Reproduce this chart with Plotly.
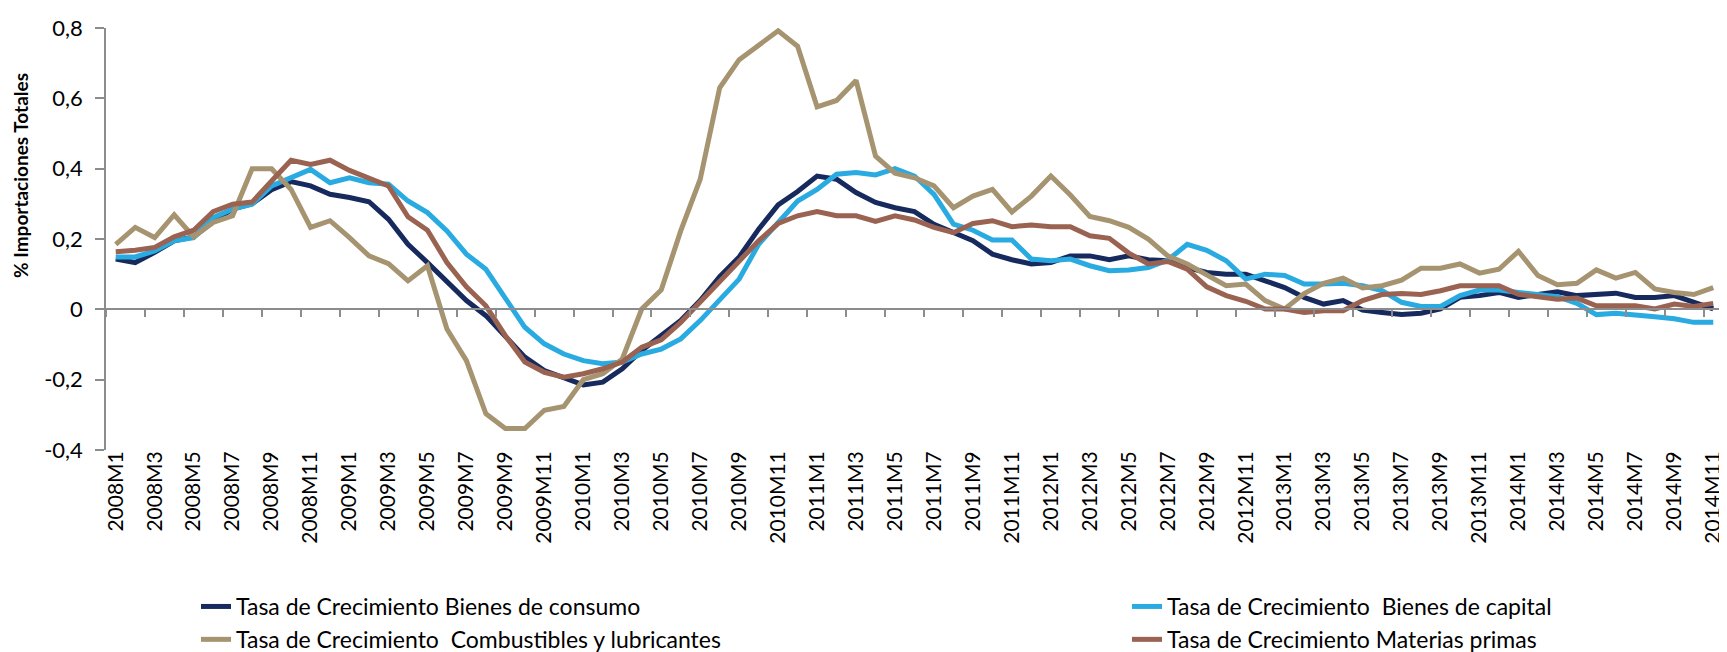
import plotly.graph_objects as go

months = [f"{y}M{m}" for y in range(2008, 2015) for m in range(1, 13)][:83]

consumo = [0.143, 0.133, 0.162, 0.195, 0.206, 0.25, 0.285, 0.30, 0.34, 0.363, 0.351, 0.327,
           0.318, 0.306, 0.256, 0.185, 0.133, 0.081, 0.025, -0.018, -0.079, -0.136, -0.174, -0.193,
           -0.215, -0.207, -0.169, -0.117, -0.075, -0.032, 0.025, 0.093, 0.149, 0.228, 0.297, 0.335,
           0.379, 0.37, 0.332, 0.304, 0.289, 0.278, 0.242, 0.218, 0.195, 0.157, 0.141, 0.129,
           0.133, 0.152, 0.152, 0.141, 0.152, 0.141, 0.138, 0.119, 0.105, 0.1, 0.1, 0.081,
           0.062, 0.034, 0.015, 0.025, -0.002, -0.009, -0.015, -0.011, 0.001, 0.034, 0.039, 0.048,
           0.034, 0.042, 0.05, 0.039, 0.042, 0.046, 0.034, 0.034, 0.039, 0.02, 0.001]

capital = [0.149, 0.149, 0.166, 0.195, 0.204, 0.261, 0.285, 0.299, 0.351, 0.374, 0.398, 0.36,
           0.374, 0.36, 0.356, 0.308, 0.275, 0.223, 0.157, 0.114, 0.034, -0.051, -0.098, -0.127,
           -0.146, -0.155, -0.15, -0.127, -0.113, -0.084, -0.032, 0.029, 0.086, 0.185, 0.247, 0.308,
           0.341, 0.384, 0.389, 0.382, 0.40, 0.379, 0.327, 0.242, 0.225, 0.197, 0.197, 0.143,
           0.138, 0.143, 0.124, 0.11, 0.112, 0.119, 0.14, 0.185, 0.168, 0.138, 0.086, 0.1,
           0.096, 0.072, 0.072, 0.074, 0.067, 0.053, 0.02, 0.008, 0.008, 0.039, 0.055, 0.055,
           0.048, 0.042, 0.036, 0.017, -0.015, -0.011, -0.015, -0.021, -0.027, -0.037, -0.037]

combustibles = [0.185, 0.233, 0.204, 0.269, 0.206, 0.247, 0.266, 0.40, 0.40, 0.341, 0.233, 0.252,
                0.204, 0.152, 0.13, 0.081, 0.124, -0.056, -0.146, -0.297, -0.339, -0.339, -0.287, -0.276,
                -0.2, -0.183, -0.141, 0.001, 0.055, 0.223, 0.37, 0.63, 0.71, 0.753, 0.792, 0.748,
                0.576, 0.594, 0.651, 0.436, 0.387, 0.374, 0.351, 0.289, 0.322, 0.341, 0.277, 0.322,
                0.379, 0.325, 0.264, 0.252, 0.233, 0.2, 0.152, 0.129, 0.096, 0.067, 0.072, 0.025,
                0.001, 0.045, 0.074, 0.089, 0.061, 0.067, 0.083, 0.117, 0.117, 0.129, 0.103, 0.114,
                0.165, 0.096, 0.07, 0.074, 0.112, 0.089, 0.105, 0.058, 0.048, 0.042, 0.062]

materias = [0.164, 0.168, 0.176, 0.206, 0.225, 0.278, 0.299, 0.305, 0.365, 0.424, 0.412, 0.424,
            0.395, 0.374, 0.351, 0.263, 0.225, 0.133, 0.064, 0.01, -0.075, -0.15, -0.179, -0.193,
            -0.183, -0.169, -0.15, -0.108, -0.087, -0.037, 0.02, 0.077, 0.133, 0.195, 0.244, 0.266,
            0.278, 0.266, 0.266, 0.25, 0.266, 0.254, 0.233, 0.218, 0.244, 0.252, 0.235, 0.24,
            0.235, 0.235, 0.209, 0.202, 0.16, 0.129, 0.136, 0.114, 0.064, 0.039, 0.023, 0.001,
            0.001, -0.009, -0.004, -0.004, 0.025, 0.042, 0.045, 0.042, 0.053, 0.067, 0.067, 0.067,
            0.043, 0.036, 0.029, 0.032, 0.01, 0.01, 0.01, 0.001, 0.015, 0.008, 0.017]

series_names = ["Tasa de Crecimiento Bienes de consumo",
                "Tasa de Crecimiento  Bienes de capital",
                "Tasa de Crecimiento  Combustibles y lubricantes",
                "Tasa de Crecimiento Materias primas"]
series_values = [consumo, capital, combustibles, materias]
series_colors = ["#172a5e", "#29abe2", "#a69470", "#9a6250"]
series_legend = ["legend", "legend2", "legend", "legend2"]

y_tickvals = [-0.4, -0.2, 0, 0.2, 0.4, 0.6, 0.8]
y_ticktext = ["-0,4", "-0,2", "0", "0,2", "0,4", "0,6", "0,8"]
y_title = "% Importaciones Totales"

FONT = "Lato"
AXIS_GRAY = "#8c8c8c"
W, H = 1727, 652
ML, MR, MT, MB = 98, 12, 20, 210
PW, PH = W - ML - MR, H - MT - MB

fig = go.Figure()
for name, vals, col, lg in zip(series_names, series_values, series_colors, series_legend):
    fig.add_trace(go.Scatter(x=months, y=vals, name=name, mode="lines", legend=lg,
                             line=dict(color=col, width=5)))
# invisible trace carrying the zero-crossing category axis
fig.add_trace(go.Scatter(x=months, y=[None] * len(months), xaxis="x2",
                         showlegend=False, hoverinfo="skip", mode="lines"))

legend_common = dict(orientation="v", xref="container", yref="container",
                     xanchor="left", yanchor="top", tracegroupgap=0,
                     font=dict(family=FONT, size=23, color="black"),
                     bgcolor="rgba(0,0,0,0)")

fig.update_layout(
    width=W, height=H,
    margin=dict(l=ML, r=MR, t=MT, b=MB, autoexpand=False),
    paper_bgcolor="white", plot_bgcolor="white",
    font=dict(family=FONT, color="black"),
    showlegend=True,
    legend=dict(x=188 / W, y=1 - 577 / H, **legend_common),
    legend2=dict(x=1119 / W, y=1 - 577 / H, **legend_common),
    xaxis=dict(type="category", categoryorder="array", categoryarray=months,
               range=[-0.5, 82.5], dtick=2, tick0=0, tickangle=-90,
               showline=False, showgrid=False, zeroline=False, ticks="",
               ticklabelstandoff=-4, automargin=False,
               tickfont=dict(family=FONT, size=21, color="black")),
    xaxis2=dict(type="category", categoryorder="array", categoryarray=months,
                overlaying="x", anchor="free", position=1 / 3,
                range=[-0.5, 82.5], dtick=2, tick0=0, tickson="boundaries",
                showline=True, linecolor=AXIS_GRAY, linewidth=1.5,
                ticks="outside", ticklen=7, tickwidth=1.5, tickcolor=AXIS_GRAY,
                showticklabels=False, showgrid=False, zeroline=False),
    yaxis=dict(range=[-0.4, 0.8], tickvals=y_tickvals, ticktext=y_ticktext,
               showline=True, linecolor=AXIS_GRAY, linewidth=1.5,
               ticks="outside", ticklen=9, tickwidth=1.5, tickcolor=AXIS_GRAY,
               showgrid=False, zeroline=False, ticklabelstandoff=8, automargin=False,
               tickfont=dict(family=FONT, size=22, color="black")),
    annotations=[dict(text=f"<b>{y_title}</b>", textangle=-90,
                      xref="paper", yref="paper",
                      x=(13 - ML) / PW, y=(H - MB - 168) / PH,
                      xanchor="center", yanchor="middle", showarrow=False,
                      font=dict(family=FONT, size=19, color="black"))],
)

fig.write_html("out.html")
